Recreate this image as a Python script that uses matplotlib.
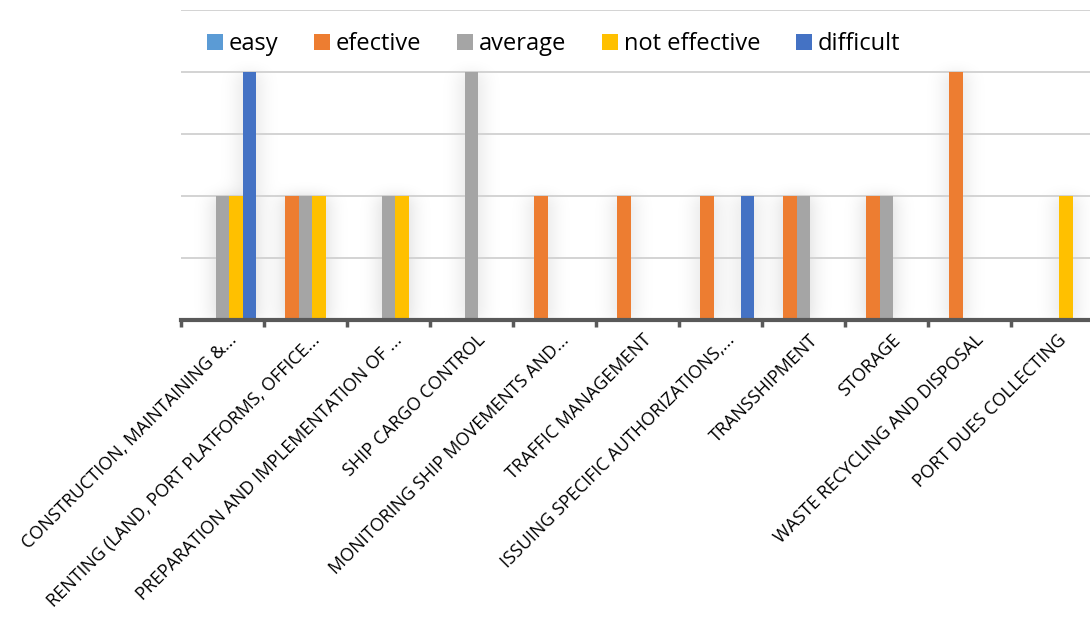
import numpy as np
import matplotlib
matplotlib.use("Agg")
from matplotlib import pyplot as plt
from matplotlib.transforms import ScaledTranslation

plt.rcParams['font.family'] = ['Open Sans', 'DejaVu Sans']

categories = [
    "CONSTRUCTION, MAINTAINING &...",
    "RENTING (LAND, PORT PLATFORMS, OFFICE...",
    "PREPARATION AND IMPLEMENTATION OF ...",
    "SHIP CARGO CONTROL",
    "MONITORING SHIP MOVEMENTS AND...",
    "TRAFFIC MANAGEMENT",
    "ISSUING SPECIFIC AUTHORIZATIONS,...",
    "TRANSSHIPMENT",
    "STORAGE",
    "WASTE RECYCLING AND DISPOSAL",
    "PORT DUES COLLECTING",
]
series_names = ["easy", "efective", "average", "not effective", "difficult"]
easy = [0, 0, 0, 0, 0, 0, 0, 0, 0, 0, 0]
efective = [0, 2, 0, 0, 2, 2, 2, 2, 2, 4, 0]
average = [2, 2, 2, 4, 0, 0, 0, 2, 2, 0, 0]
not_effective = [2, 2, 2, 0, 0, 0, 0, 0, 0, 0, 2]
difficult = [4, 0, 0, 0, 0, 0, 2, 0, 0, 0, 0]
colors = ["#5B9BD5", "#ED7D31", "#A5A5A5", "#FFC000", "#4472C4"]

fig = plt.figure(figsize=(10.9, 6.17), dpi=100)
ax = fig.add_axes([181 / 1090, 297 / 617, 909 / 1090, 310 / 617])

x = np.arange(len(categories))
bw = 0.163
data = [easy, efective, average, not_effective, difficult]
x0, x1 = -0.5, -0.5 + 909 / 83
y0, y1 = 0, 5

# soft outer shadow: rasterise the bars, blur them, lay the result under the bars
nx, ny = 909, 310
mask = np.zeros((ny, nx))
for i, vals in enumerate(data):
    for xi, v in zip(x + (i - 2) * bw, vals):
        if v <= 0:
            continue
        c0 = int(round((xi - bw / 2 - x0) / (x1 - x0) * nx))
        c1 = int(round((xi + bw / 2 - x0) / (x1 - x0) * nx))
        r1 = int(round(v / (y1 - y0) * ny))
        mask[:r1, max(c0, 0):min(c1, nx)] = 1.0


def blur(img, sigma, axis):
    r = int(3 * sigma)
    t = np.arange(-r, r + 1)
    k = np.exp(-0.5 * (t / sigma) ** 2)
    k /= k.sum()
    return np.apply_along_axis(lambda m: np.convolve(m, k, mode="same"), axis, img)


shade = blur(blur(mask, 11, 1), 7, 0)
shade = np.clip(shade, 0, 1)
rgba = np.zeros((ny, nx, 4))
rgba[..., 3] = 0.17 * shade
ax.imshow(rgba, extent=(x0, x1, y0, y1), origin="lower", aspect="auto",
          interpolation="bilinear", zorder=1)

for i, vals in enumerate(data):
    ax.bar(x + (i - 2) * bw, vals, width=bw, color=colors[i],
           label=series_names[i], zorder=3, linewidth=0)

ax.set_xlim(x0, x1)
ax.set_ylim(y0, y1)
ax.set_yticks([1, 2, 3, 4, 5])
ax.yaxis.grid(True, color="#D0D0D0", linewidth=1.3, zorder=0.5)
ax.tick_params(axis="y", left=False, labelleft=False)
for s in ["left", "right", "top"]:
    ax.spines[s].set_visible(False)
ax.spines["bottom"].set_color("#595959")
ax.spines["bottom"].set_linewidth(3)
ax.spines["bottom"].set_zorder(4)

ax.set_xticks(x - 0.5, minor=True)
ax.tick_params(axis="x", which="minor", length=5, width=2.5, color="#595959")
ax.set_xticks(x)
ax.tick_params(axis="x", which="major", length=0, pad=8)
ax.set_xticklabels(categories, rotation=45, ha="right", va="top",
                   rotation_mode="anchor", fontsize=13, color="#000000")
shift = ScaledTranslation(5 / 100, 0, fig.dpi_scale_trans)
for lab in ax.get_xticklabels():
    lab.set_transform(lab.get_transform() + shift)

leg = ax.legend(loc="center left", bbox_to_anchor=(26 / 909, 0.89), ncol=5,
                frameon=False, fontsize=17, handlelength=0.68, handleheight=0.68,
                handletextpad=0.25, columnspacing=1.5, borderaxespad=0,
                borderpad=0)

fig.savefig("out.png", dpi=100, facecolor="white")
